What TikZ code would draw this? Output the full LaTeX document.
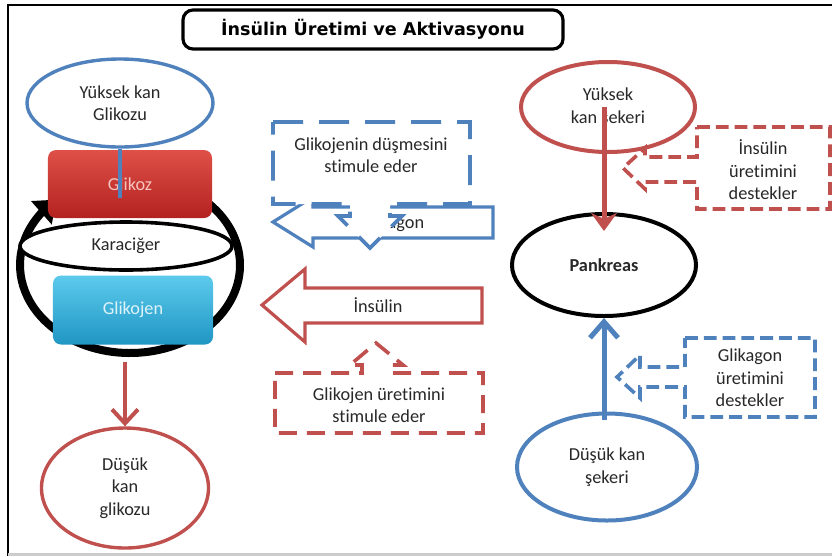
\documentclass[tikz,border=0pt]{standalone}
\usepackage{fontspec}
\setmainfont{Carlito}[Ligatures=NoCommon]
\newfontfamily\titlefont{DejaVu Sans}
\usetikzlibrary{arrows.meta,bending,shapes.geometric}
\definecolor{ofred}{RGB}{192,80,77}
\definecolor{ofblue}{RGB}{79,129,189}
\definecolor{txt}{RGB}{40,40,40}

\tikzset{
  oval/.style={ellipse,line width=0.85mm,fill=white,inner sep=0pt},
  lozbox/.style={rounded corners=2mm,inner sep=0pt,minimum width=41mm,minimum height=17mm},
  blockarrow/.style={line width=0.8mm,fill=white,line join=miter},
  callout/.style={line width=0.9mm,fill=white,dash pattern=on 4.5mm off 2.5mm},
  smallcallout/.style={line width=0.9mm,fill=white,dash pattern=on 3.2mm off 1.5mm},
  link/.style={line width=1.25mm}
}

\begin{document}
\begin{tikzpicture}[x=0.25mm,y=-0.25mm,
  every node/.style={font=\fontsize{13}{16}\selectfont,text=txt,align=center}]
    \useasboundingbox (0,0) rectangle (832,556);
    \draw[line width=0.5mm] (8,556) -- (8,5) -- (832,5);
    \draw[gray!40,line width=0.6mm] (8,554.5) -- (832,554.5);

    \node[draw,rounded corners=2.5mm,line width=0.8mm,minimum width=95mm,minimum height=9.75mm,
      font=\titlefont\bfseries\fontsize{12.5}{15}\selectfont,text=black] (baslik) at (373,29.5) {İnsülin Üretimi ve Aktivasyonu};

    \draw[line width=2mm,-{Triangle[length=5mm,width=7.5mm]}] (130,265) ++(-55:110 and 88)
      arc[start angle=-55,end angle=228,x radius=110,y radius=88];
    \node[lozbox,top color={rgb,255:red,222;green,80;blue,72},bottom color={rgb,255:red,180;green,34;blue,32},
      text={rgb,255:red,246;green,196;blue,190}] (glikoz) at (130,184) {Glikoz};
    \node[oval,draw=black,line width=0.9mm,minimum width=53mm,minimum height=12mm] (karaciger) at (126,246) {Karaciğer};
    \node[lozbox,minimum width=40mm,minimum height=17.25mm,top color={rgb,255:red,92;green,202;blue,236},
      bottom color={rgb,255:red,32;green,150;blue,196},text={rgb,255:red,222;green,243;blue,250}] (glikojen) at (133,310) {Glikojen};

    \node[oval,draw=ofblue,minimum width=46.5mm,minimum height=22mm] (yuksekglik) at (120,103) {Yüksek kan\\Glikozu};
    \coordinate (glikozici) at (120,198);
    \draw[ofblue,line width=1.2mm] (yuksekglik.south) -- (glikozici);

    \node[oval,draw=ofred,minimum width=41.75mm,minimum height=30mm] (dusukglik) at (125,488) {Düşük\\kan\\glikozu};
    \draw[ofred,line width=1mm,shorten <=4.2mm,-{Straight Barb[length=3.5mm,width=6.5mm]}]
      (glikojen.south -| dusukglik.north) -- (dusukglik.north);

    \draw[ofblue,blockarrow] (273,222) -- (313,197) -- (313,207) -- (493,207) -- (493,238) -- (313,238) -- (313,247) -- cycle;
    \node (glukagon) at (392,224) {Glikagon};
    \draw[ofblue,callout,dash pattern=on 7.5mm off 4mm] (273,122) -- (470,122) -- (470,204) -- (390,204) -- (390,216)
      -- (402,216) -- (370,248) -- (338,216) -- (350,216) -- (350,204) -- (273,204) -- cycle;
    \node (dusmesi) at (371,155) {Glikojenin düşmesini\\stimule eder};

    \draw[ofred,blockarrow] (262,305) -- (305,269) -- (305,288) -- (482,288) -- (482,323) -- (305,323) -- (305,342) -- cycle;
    \node (insulin) at (378,305) {İnsülin};
    \draw[ofred,callout] (275,373) -- (362,373) -- (362,365) -- (350,365) -- (376,343) -- (403,365) -- (392,365)
      -- (392,373) -- (483,373) -- (483,433) -- (275,433) -- cycle;
    \node (uretim) at (379,405) {Glikojen üretimini\\stimule eder};

    \node[oval,draw=ofred,line width=1mm,minimum width=43.5mm,minimum height=22.5mm] (yuksekseker) at (608,107) {Yüksek\\kan şekeri};
    \node[oval,draw=black,line width=1mm,minimum width=46mm,minimum height=25.5mm,
      font=\bfseries\fontsize{13}{16}\selectfont] (pankreas) at (604,265) {Pankreas};
    \draw[ofred,link,-{Stealth[length=4.5mm,width=6.5mm]}] (yuksekseker.center -| pankreas.north) -- ([yshift=-4.75mm]pankreas.north);
    \node[oval,draw=ofblue,line width=1mm,minimum width=45mm,minimum height=26.75mm] (dusukseker) at (607,467) {Düşük kan\\şekeri};
    \draw[ofblue,link,-{Straight Barb[length=4mm,width=7mm]}] ([yshift=-2mm]dusukseker.north -| pankreas.south) -- (pankreas.south);

    \draw[ofred,smallcallout] (697,127) -- (830,127) -- (830,209) -- (697,209) -- (697,182) -- (645,182) -- (645,189)
      -- (623,168) -- (645,148) -- (645,157) -- (697,157) -- cycle;
    \node (destekins) at (763,170) {İnsülin\\üretimini\\destekler};
    \draw[ofblue,smallcallout] (685,338) -- (815,338) -- (815,417) -- (685,417) -- (685,387) -- (640,387) -- (640,398)
      -- (617,377) -- (640,355) -- (640,367) -- (685,367) -- cycle;
    \node (destekglk) at (750,378) {Glikagon\\üretimini\\destekler};
\end{tikzpicture}
\end{document}
